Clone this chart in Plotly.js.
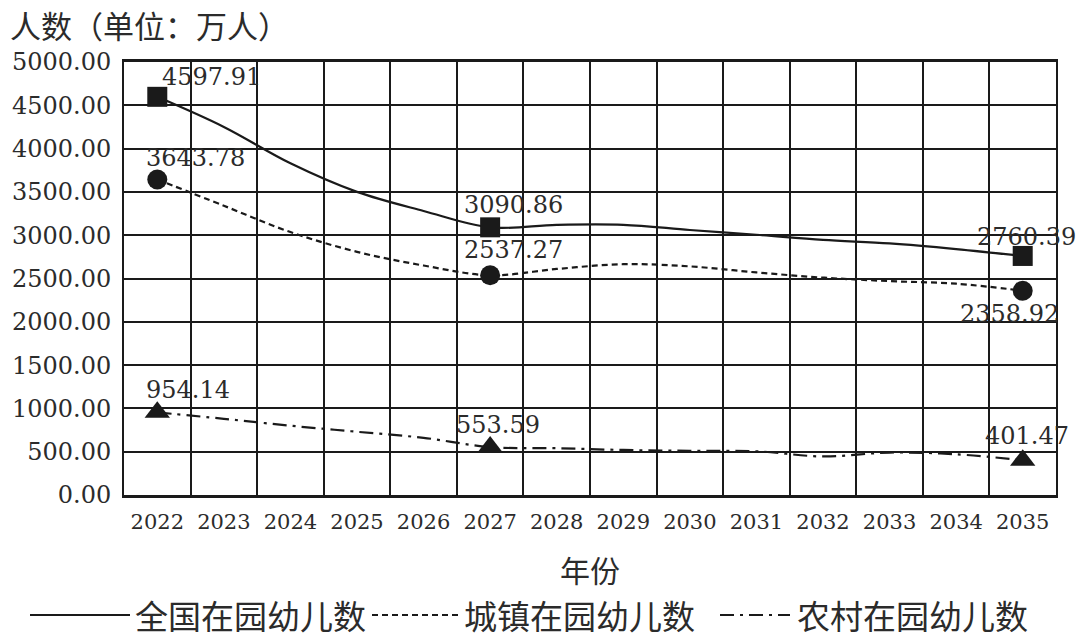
<!DOCTYPE html>
<html>
<head>
<meta charset="utf-8">
<script src="https://cdn.plot.ly/plotly-3.0.1.min.js"></script>
<style>
  html, body { margin: 0; padding: 0; background: #fff; }
  #chart { width: 1080px; height: 639px; }
</style>
</head>
<body>
<div id="chart"></div>
<script>
var years = ['2022', '2023', '2024', '2025', '2026', '2027', '2028', '2029', '2030', '2031', '2032', '2033', '2034', '2035'];
var national = [4597.91, 4250, 3830, 3500, 3280, 3090.86, 3120, 3120, 3060, 3005, 2945, 2905, 2840, 2760.39];
var urban = [3643.78, 3340, 3036, 2808, 2650, 2537.27, 2610, 2665, 2640, 2570, 2510, 2470, 2440, 2358.92];
var rural = [954.14, 880, 800, 730, 660, 553.59, 540, 520, 510, 505, 445, 490, 470, 401.47];
var seriesNames = ['全国在园幼儿数', '城镇在园幼儿数', '农村在园幼儿数'];
var markIdx = [0, 5, 13];   // years that carry a marker and a value label

var yTitle = '人数（单位：万人）';
var xTitle = '年份';

// plot box in pixels, used to place titles and the hand-made legend
var L = 124, R = 1056, T = 62, B = 495;
function px(x) { return (x - L) / (R - L); }
function py(y) { return (B - y) / (B - T); }

var serif = 'DejaVu Serif, Liberation Serif, serif';
var cjk = 'Noto Sans CJK SC, sans-serif';
var ink = '#1a1a1a';

var allSeries = [national, urban, rural];
var dashes = ['solid', '6px,4px', '14px,6px,3px,6px'];
var symbols = ['square', 'circle', 'triangle-up'];
var msize = [20, 20, 22];

// label offsets (px) for the three marked points of each series
var shifts = [
  [[54, 20], [23, 22], [4, 19]],
  [[38, 21], [23, 25], [-13, -23]],
  [[31, 22], [8, 22], [4, 24]]
];

var data = [];
var annotations = [];

allSeries.forEach(function (vals, s) {
  data.push({
    x: years, y: vals, type: 'scatter', mode: 'lines',
    line: { color: ink, width: 2.2, shape: 'spline', smoothing: 1, dash: dashes[s] },
    hoverinfo: 'x+y', showlegend: false
  });
  data.push({
    x: markIdx.map(function (i) { return years[i]; }),
    y: markIdx.map(function (i) { return vals[i]; }),
    type: 'scatter', mode: 'markers',
    marker: { symbol: symbols[s], size: msize[s], color: ink },
    cliponaxis: false, showlegend: false
  });
  markIdx.forEach(function (i, k) {
    annotations.push({
      x: i, y: vals[i], xref: 'x', yref: 'y',   // category index
      text: vals[i].toFixed(2), showarrow: false,
      xshift: shifts[s][k][0], yshift: shifts[s][k][1],
      font: { family: serif, size: 24, color: '#2b2b2b' }
    });
  });
});

// titles
annotations.push({
  xref: 'paper', yref: 'paper', x: px(8), y: py(25), xanchor: 'left', yanchor: 'middle',
  text: yTitle, showarrow: false, font: { family: cjk, size: 31, color: '#2b2b2b' }
});
annotations.push({
  xref: 'paper', yref: 'paper', x: px(590), y: py(569), xanchor: 'center', yanchor: 'middle',
  text: xTitle, showarrow: false, font: { family: cjk, size: 30, color: '#2b2b2b' }
});

// legend drawn by hand so the line samples are long like the original
var legLines = [[30, 130], [372, 460], [720, 790]];
var legText = [133, 462, 795];
var shapes = [];
seriesNames.forEach(function (name, s) {
  shapes.push({
    type: 'line', xref: 'paper', yref: 'paper',
    x0: px(legLines[s][0]), x1: px(legLines[s][1]), y0: py(615), y1: py(615),
    line: { color: ink, width: 2, dash: dashes[s] }
  });
  annotations.push({
    xref: 'paper', yref: 'paper', x: px(legText[s]), y: py(615), xanchor: 'left', yanchor: 'middle',
    text: name, showarrow: false, font: { family: cjk, size: 33, color: '#2b2b2b' }
  });
});

var layout = {
  width: 1080,
  height: 639,
  margin: { l: L, r: 1080 - R, t: T, b: 639 - B, pad: 0 },
  paper_bgcolor: '#ffffff',
  plot_bgcolor: '#ffffff',
  showlegend: false,
  xaxis: {
    type: 'category',
    range: [-0.5, 13.5],
    tickson: 'boundaries',
    ticks: '',
    showgrid: true,
    gridcolor: ink,
    gridwidth: 2,
    showline: true,
    linecolor: ink,
    linewidth: 3,
    mirror: true,
    tickfont: { family: serif, size: 21, color: '#2b2b2b' },
    ticklabelstandoff: 6
  },
  yaxis: {
    range: [0, 5000],
    dtick: 500,
    tickformat: '.2f',
    ticks: '',
    showgrid: true,
    gridcolor: ink,
    gridwidth: 2,
    zeroline: false,
    showline: true,
    linecolor: ink,
    linewidth: 2,
    mirror: true,
    tickfont: { family: serif, size: 24, color: '#2b2b2b' },
    ticklabelstandoff: 6
  },
  annotations: annotations,
  shapes: shapes
};

Plotly.newPlot('chart', data, layout, { displayModeBar: false, staticPlot: true });
</script>
</body>
</html>
